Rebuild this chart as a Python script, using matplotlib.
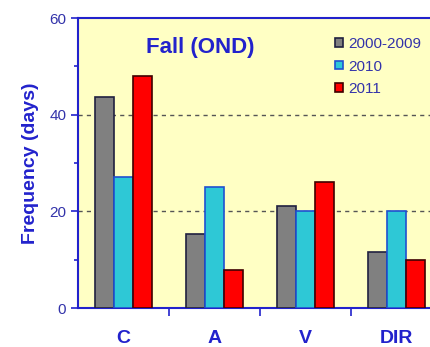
import matplotlib
matplotlib.use("Agg")
import matplotlib.pyplot as plt
import numpy as np
from matplotlib.ticker import MultipleLocator, FixedLocator

plt.rcParams["font.family"] = ["Liberation Sans", "DejaVu Sans"]

categories = ["C", "A", "V", "DIR"]
series_names = ["2000-2009", "2010", "2011"]
v_2000_2009 = [43.6, 15.3, 21.1, 11.6]
v_2010 = [27.2, 25.1, 20.0, 20.0]
v_2011 = [48.0, 7.9, 26.0, 9.9]
y_ticks = [0, 20, 40, 60]

colors = ["#808080", "#2EC8D6", "#FF0000"]
edges = ["#202040", "#2050D0", "#400000"]
blue = "#2222CC"

W, H = 430, 347
fig = plt.figure(figsize=(W / 100, H / 100), dpi=100)
ax = fig.add_axes([78 / W, 1 - 308 / H, (442 - 78) / W, (308 - 18) / H])
ax.set_facecolor("#FFFFC4")

x = np.arange(len(categories))
bw = 0.21
for i, (vals, c, e, name) in enumerate(zip([v_2000_2009, v_2010, v_2011], colors, edges, series_names)):
    ax.bar(x + (i - 1) * bw, vals, width=bw, color=c, edgecolor=e, linewidth=1.2, label=name, zorder=3)

ax.set_xlim(-0.5, 3.5)
ax.set_ylim(0, 60)
ax.set_yticks(y_ticks)
ax.yaxis.set_minor_locator(MultipleLocator(10))
for yv in [20, 40]:
    ax.axhline(yv, color="#555555", linestyle=(0, (3, 3)), linewidth=1.0, zorder=2)

ax.xaxis.set_major_locator(FixedLocator([0.5, 1.5, 2.5]))
ax.set_xticklabels([])
ax.xaxis.set_minor_locator(FixedLocator(x))
ax.set_xticklabels(categories, minor=True)
ax.tick_params(axis="x", which="minor", length=0, pad=16, labelsize=14, labelcolor=blue)
for lab in ax.get_xticklabels(minor=True):
    lab.set_fontweight("bold")
ax.tick_params(axis="x", which="major", length=6, color=blue, direction="out", width=1.2)
ax.tick_params(axis="y", which="major", length=5, color=blue, labelcolor="#3333AA", labelsize=11, width=1.2)
ax.tick_params(axis="y", which="minor", length=3, color=blue, width=1.2)

for s in ["left", "bottom", "top"]:
    ax.spines[s].set_color(blue)
    ax.spines[s].set_linewidth(1.5)
ax.spines["right"].set_visible(False)

ax.set_ylabel("Frequency (days)", color=blue, fontsize=14, fontweight="bold", labelpad=7)
ax.text(0.84, 53.8, "Fall (OND)", color=blue, fontsize=16, fontweight="bold",
        ha="center", va="center", zorder=4)

leg = ax.legend(loc="upper left", bbox_to_anchor=(0.69, 0.955), frameon=False,
                prop={"size": 11},
                handlelength=0.5, handleheight=0.5, handletextpad=0.35, labelspacing=0.55,
                borderaxespad=0)
for t in leg.get_texts():
    t.set_color("#3333AA")

fig.savefig("out.png", dpi=100, facecolor="white")
